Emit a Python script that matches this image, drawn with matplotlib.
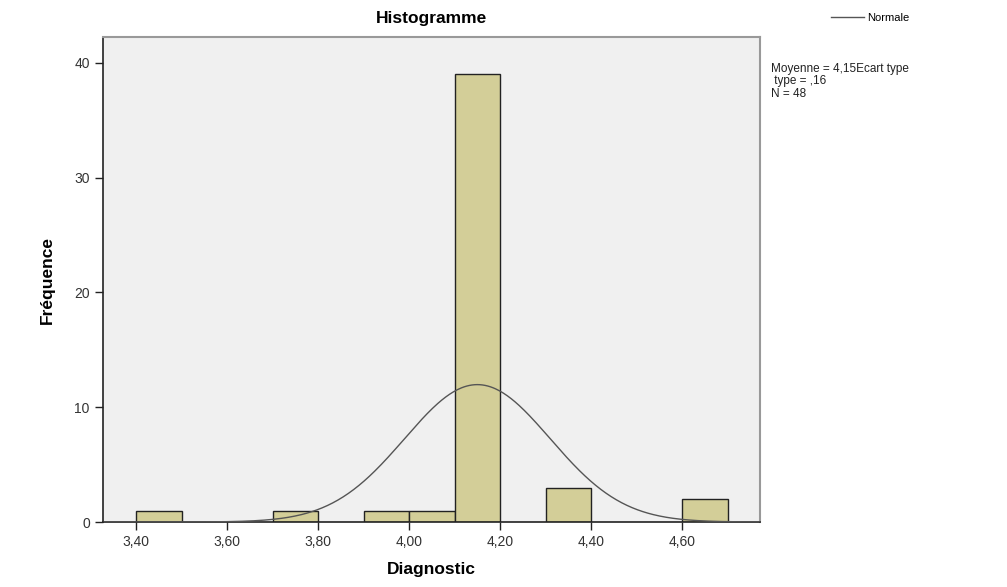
import numpy as np
import matplotlib
matplotlib.use("Agg")
import matplotlib.pyplot as plt

plt.rcParams['font.family'] = ['Liberation Sans', 'DejaVu Sans']

# Data
bin_lefts = [3.40, 3.70, 3.90, 4.00, 4.10, 4.30, 4.60]
counts = [1, 1, 1, 1, 39, 3, 2]
bin_width = 0.10
mean_val = 4.15
sd_val = 0.16
n_val = 48
xtick_vals = [3.40, 3.60, 3.80, 4.00, 4.20, 4.40, 4.60]
xtick_labels = ["3,40", "3,60", "3,80", "4,00", "4,20", "4,40", "4,60"]
ytick_vals = [0, 10, 20, 30, 40]

fig = plt.figure(figsize=(10.07, 5.87), dpi=100)
ax = fig.add_axes([0.1023, 0.1107, 0.6524, 0.8263])
ax.set_facecolor('#F0F0F0')

ax.bar(bin_lefts, counts, width=bin_width, align='edge', color='#D3CE98',
       edgecolor='#222222', linewidth=1.0, zorder=2)

xs = np.linspace(3.33, 4.77, 500)
ys = n_val * bin_width / (sd_val * np.sqrt(2 * np.pi)) * np.exp(-0.5 * ((xs - mean_val) / sd_val) ** 2)
line, = ax.plot(xs, ys, color='#555555', linewidth=1.0, zorder=3)

ax.set_xlim(3.3275, 4.771)
ax.set_ylim(0, 42.25)
ax.set_xticks(xtick_vals)
ax.set_xticklabels(xtick_labels)
ax.set_yticks(ytick_vals)
ax.tick_params(axis='both', direction='out', length=6, width=1, colors='#222222',
               labelsize=10, labelcolor='#333333')

for s in ['left', 'bottom']:
    ax.spines[s].set_color('#222222')
    ax.spines[s].set_linewidth(1.2)
for s in ['top', 'right']:
    ax.spines[s].set_color('#999999')
    ax.spines[s].set_linewidth(1.5)

ax.set_title("Histogramme", fontsize=12.5, fontweight='bold', pad=10)
ax.set_xlabel("Diagnostic", fontsize=12.5, fontweight='bold', labelpad=9)
ax.set_ylabel("Fréquence", fontsize=12.5, fontweight='bold', labelpad=14)

# Legend (outside, top right)
fig.legend([line], ["Normale"], loc='upper left', bbox_to_anchor=(0.815, 0.995),
           frameon=False, fontsize=8, handlelength=3, handletextpad=0.3)

fig.text(0.766, 0.893, "Moyenne = 4,15Ecart type\n type = ,16\nN = 48",
         fontsize=8.5, va='top', ha='left', linespacing=1.05, color='#222222')

fig.savefig("out.png", dpi=100)
